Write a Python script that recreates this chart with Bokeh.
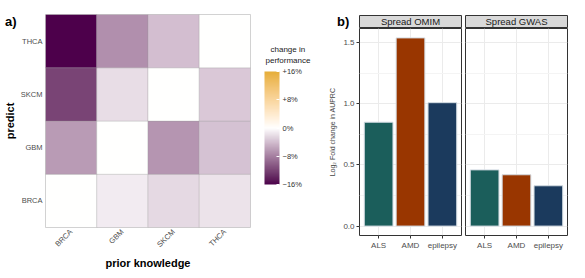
import numpy as np
from bokeh.plotting import figure
from bokeh.models import (ColumnDataSource, LinearColorMapper, ColorBar, FixedTicker,
                          FactorRange, Range1d, PrintfTickFormatter, Div, Title, GridBox)
from bokeh.layouts import column
from bokeh.embed import file_html
from bokeh.resources import INLINE
from bokeh.core.properties import value

# ---------------- data ----------------
prior_knowledge = ["BRCA", "GBM", "SKCM", "THCA"]
predict = ["BRCA", "GBM", "SKCM", "THCA"]
# change in performance (%) for each predicted cancer, by prior knowledge BRCA, GBM, SKCM, THCA
change_BRCA = [0.0, -1.2, -2.3, -1.7]
change_GBM = [-6.2, 0.0, -6.6, -3.7]
change_SKCM = [-12.0, -2.1, 0.0, -3.3]
change_THCA = [-16.0, -7.0, -3.9, 0.0]
legend_ticks = [-16, -8, 0, 8, 16]
legend_labels = ["\u221216%", "\u22128%", "0%", "+8%", "+16%"]

diseases = ["ALS", "AMD", "epilepsy"]
omim_lfc = [0.85, 1.54, 1.01]
gwas_lfc = [0.46, 0.42, 0.33]
bar_colors = ["#1b5e5b", "#993600", "#1b3a5d"]
y_ticks = [0.0, 0.5, 1.0, 1.5]
y_minor = [0.25, 0.75, 1.25]

FONT = "Liberation Sans"
H = 272

# ---------------- Lab palette ----------------
M = np.array([[0.4124, 0.3576, 0.1805], [0.2126, 0.7152, 0.0722], [0.0193, 0.1192, 0.9505]])
Minv = np.linalg.inv(M)
WP = np.array([0.95047, 1.0, 1.08883])


def hex2rgb(h):
    return np.array([int(h[i:i + 2], 16) for i in (1, 3, 5)]) / 255.0


def s2l(c):
    return np.where(c <= 0.04045, c / 12.92, ((c + 0.055) / 1.055) ** 2.4)


def l2s(c):
    c = np.clip(c, 0, None)
    return np.where(c <= 0.0031308, 12.92 * c, 1.055 * np.power(c, 1 / 2.4) - 0.055)


def fl(t):
    d = 6 / 29
    return np.where(t > d ** 3, np.cbrt(t), t / (3 * d * d) + 4 / 29)


def finv(t):
    d = 6 / 29
    return np.where(t > d, t ** 3, 3 * d * d * (t - 4 / 29))


def rgb2lab(h):
    xyz = M @ s2l(hex2rgb(h)) / WP
    fx, fy, fz = fl(xyz)
    return np.array([116 * fy - 16, 500 * (fx - fy), 200 * (fy - fz)])


def lab2hex(lab):
    L, a, b = lab
    fy = (L + 16) / 116
    fx = fy + a / 500
    fz = fy - b / 200
    xyz = np.array([finv(fx), finv(fy), finv(fz)]) * WP
    rgb = np.clip(l2s(Minv @ xyz), 0, 1)
    return "#%02x%02x%02x" % tuple(int(round(v * 255)) for v in rgb)


lo, mid, hi = rgb2lab("#4d004b"), rgb2lab("#ffffff"), rgb2lab("#e6ae38")
palette = []
for i in range(256):
    t = i / 255 * 2 - 1
    if t < 0:
        palette.append(lab2hex(mid + (lo - mid) * (-t)))
    else:
        palette.append(lab2hex(mid + (hi - mid) * t))

# ---------------- heatmap ----------------
rows_all = {"BRCA": change_BRCA, "GBM": change_GBM, "SKCM": change_SKCM, "THCA": change_THCA}
xs, ys, vs = [], [], []
for pr in predict:
    for j, pk in enumerate(prior_knowledge):
        xs.append(pk)
        ys.append(pr)
        vs.append(rows_all[pr][j])
src = ColumnDataSource(dict(x=xs, y=ys, v=vs))
mapper = LinearColorMapper(palette=palette, low=-16, high=16)

pA = figure(width=256, height=H, x_range=FactorRange(*prior_knowledge),
            y_range=FactorRange(*predict), output_backend="svg", toolbar_location=None,
            frame_align=False,
            min_border_left=38, min_border_right=6, min_border_top=14, min_border_bottom=40)
pA.rect(x="x", y="y", width=1, height=1, source=src,
        fill_color={"field": "v", "transform": mapper},
        line_color="#999999", line_alpha=0.45, line_width=0.6)
pA.grid.grid_line_color = None
pA.outline_line_color = "#d0d0d0"
for ax in (pA.xaxis[0], pA.yaxis[0]):
    ax.axis_line_color = None
    ax.major_tick_line_color = None
    ax.minor_tick_line_color = None
    ax.major_tick_out = 0
    ax.major_tick_in = 0
    ax.minor_tick_out = 0
    ax.major_label_text_font = FONT
    ax.major_label_text_font_size = "7.5px"
    ax.major_label_text_color = "#4d4d4d"
    ax.axis_label_text_font = FONT
    ax.axis_label_text_font_size = "11px"
    ax.axis_label_text_font_style = "bold"
    ax.axis_label_text_color = "#000000"
    ax.major_label_standoff = 3
    ax.axis_label_standoff = 2
pA.xaxis.axis_label = "prior knowledge"
pA.yaxis.axis_label = "predict"
pA.xaxis.major_label_orientation = np.pi / 4

TAG = "font-family:'Liberation Sans';font-size:13px;font-weight:bold;color:#000;line-height:13px;"
div_a = Div(text=f'<div style="{TAG}margin-top:10px;">a)</div>', width=20, height=30)
div_b = Div(text=f'<div style="{TAG}margin-top:10px;margin-left:10px;">b)</div>', width=30, height=30)

# ---------------- colour legend ----------------
pL = figure(width=66, height=H, x_range=Range1d(0, 1), y_range=Range1d(0, 1),
            x_axis_location=None, y_axis_location=None, output_backend="svg",
            toolbar_location=None, frame_align=False, min_border_left=8, min_border_right=0,
            min_border_top=64, min_border_bottom=H - 184)
pL.grid.grid_line_color = None
pL.outline_line_color = None
cb = ColorBar(color_mapper=mapper, width=15, height=113, location=(0, 0),
              orientation="vertical",
              ticker=FixedTicker(ticks=legend_ticks),
              major_label_overrides={t: l for t, l in zip(legend_ticks, legend_labels)},
              major_label_text_font=FONT, major_label_text_font_size="7.5px",
              major_label_text_color="#333333", label_standoff=3,
              major_tick_line_color="white", major_tick_in=3, major_tick_out=0,
              bar_line_color=None, padding=0, margin=0,
              background_fill_color=None, border_line_color=None)
pL.add_layout(cb, "center")
pL.add_layout(Title(text="performance", align="left", offset=1, standoff=0,
                    text_font=FONT, text_font_size="8px", text_font_style="normal",
                    text_color="#1a1a1a"), "above")
pL.add_layout(Title(text="change in", align="left", offset=6, standoff=0,
                    text_font=FONT, text_font_size="8px", text_font_style="normal",
                    text_color="#1a1a1a"), "above")


# ---------------- bar panels ----------------
def make_panel(vals, strip_text, width, left_b, right_b, show_y):
    strip = figure(width=width, height=28, x_range=Range1d(0, 1), y_range=Range1d(0, 1),
                   x_axis_location=None, y_axis_location=None, output_backend="svg",
                   toolbar_location=None, frame_align=False,
                   min_border_top=15, min_border_bottom=0,
                   min_border_left=left_b, min_border_right=right_b)
    strip.grid.grid_line_color = None
    strip.background_fill_color = "#d9d9d9"
    strip.outline_line_color = "#333333"
    strip.text(x=[0.5], y=[0.56], text=[strip_text], text_align="center",
               text_baseline="middle", text_font=value(FONT), text_font_size="9.5px",
               text_color="#1a1a1a")
    p = figure(width=width, height=H - 28,
               x_range=FactorRange(*diseases, range_padding=0.1, range_padding_units="absolute"),
               y_range=Range1d(-0.077, 1.617), output_backend="svg", toolbar_location=None,
               y_axis_location="left" if show_y else None, frame_align=False,
               min_border_top=0, min_border_bottom=37,
               min_border_left=left_b, min_border_right=right_b)
    p.vbar(x=diseases, top=vals, bottom=0, width=0.9, fill_color=bar_colors,
           line_color="#d3dbe2", line_width=1)
    p.outline_line_color = "#333333"
    p.xgrid.grid_line_color = "#ebebeb"
    p.ygrid.grid_line_color = "#ebebeb"
    p.ygrid.minor_grid_line_color = "#f4f4f4"
    p.ygrid.ticker = FixedTicker(ticks=y_ticks, minor_ticks=y_minor)
    axes = [p.xaxis[0]] + ([p.yaxis[0]] if show_y else [])
    for ax in axes:
        ax.axis_line_color = None
        ax.major_tick_line_color = "#333333"
        ax.major_tick_out = 3
        ax.major_tick_in = 0
        ax.minor_tick_line_color = None
        ax.minor_tick_out = 0
        ax.major_label_text_font = FONT
        ax.major_label_text_font_size = "8px"
        ax.major_label_text_color = "#4d4d4d"
        ax.major_label_standoff = 2
    if show_y:
        p.yaxis.ticker = FixedTicker(ticks=y_ticks)
        p.yaxis.formatter = PrintfTickFormatter(format="%.1f")
        p.yaxis.axis_label = "Log\u2082 Fold change in AUPRC"
        p.yaxis.axis_label_text_font = FONT
        p.yaxis.axis_label_text_font_size = "7px"
        p.yaxis.axis_label_text_font_style = "normal"
        p.yaxis.axis_label_standoff = 4
    return column(strip, p, spacing=0)


b1 = make_panel(omim_lfc, "Spread OMIM", 141, 37, 2, True)
b2 = make_panel(gwas_lfc, "Spread GWAS", 106, 2, 2, False)

layout = GridBox(children=[(pA, 0, 0), (div_a, 0, 0), (pL, 0, 1), (b1, 0, 2),
                           (div_b, 0, 2), (b2, 0, 3)], spacing=0)
open("out.html", "w").write(file_html(layout, INLINE))
